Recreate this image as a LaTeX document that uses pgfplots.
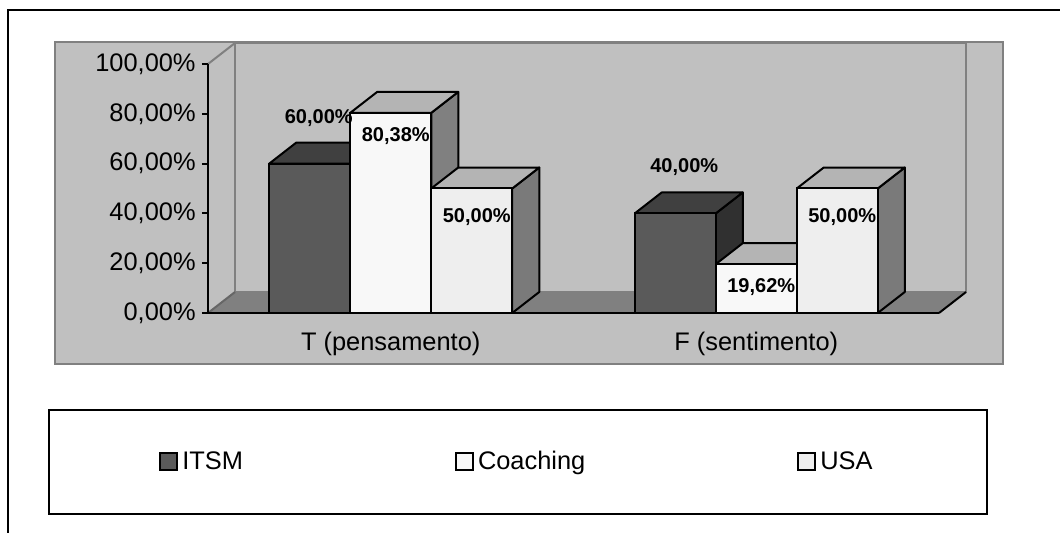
\documentclass[border=0pt]{standalone}
\usepackage{pgfplots}
\pgfplotsset{compat=1.18}
\usepackage{pgfplotstable}
\usepackage{fontspec}
\setmainfont{Liberation Sans}

\definecolor{bgc}{HTML}{C0C0C0}
\definecolor{edgec}{HTML}{808080}
\definecolor{floorc}{HTML}{808080}
\definecolor{itsmF}{HTML}{5A5A5A}
\definecolor{itsmT}{HTML}{404040}
\definecolor{itsmS}{HTML}{303030}
\definecolor{coachF}{HTML}{F8F8F8}
\definecolor{coachT}{HTML}{B4B4B4}
\definecolor{coachS}{HTML}{808080}
\definecolor{usaF}{HTML}{EEEEEE}
\definecolor{usaT}{HTML}{B4B4B4}
\definecolor{usaS}{HTML}{7A7A7A}

\pgfplotstableread{
x    ITSM  Coaching USA
0.5  60    80.38    50
1.5  40    19.62    50
}\datatable

\def\dx{0.0739}
\def\dy{8.43}
\def\bw{0.2216}

% side and top faces of a bar, value read from the table
% #1 row, #2 column, #3 left x, #4 top colour, #5 side colour
\newcommand{\barfaces}[5]{%
  \pgfplotstablegetelem{#1}{#2}\of\datatable
  \let\val\pgfplotsretval
  \pgfmathsetmacro{\xl}{#3}%
  \pgfmathsetmacro{\xr}{#3+\bw}%
  \pgfmathsetmacro{\xlb}{#3+\dx}%
  \pgfmathsetmacro{\xrb}{#3+\bw+\dx}%
  \pgfmathsetmacro{\yt}{\val+\dy}%
  \edef\doplot{%
    \noexpand\addplot[fill=#5, draw=black, line width=1pt, line join=round, forget plot]
      coordinates {(\xr,0) (\xrb,\dy) (\xrb,\yt) (\xr,\val) (\xr,0)};
    \noexpand\addplot[fill=#4, draw=black, line width=1pt, line join=round, forget plot]
      coordinates {(\xl,\val) (\xlb,\yt) (\xrb,\yt) (\xr,\val) (\xl,\val)};
  }\doplot
}

\newcommand{\lblfmt}{\pgfmathprintnumber[fixed,fixed zerofill,precision=2,use comma]{\pgfplotspointmeta}\%}

\begin{document}
\begin{tikzpicture}
\useasboundingbox (0,0) rectangle (530pt,-266.5pt);
% outer frame
\draw[line width=1pt] (4pt,-266.5pt) -- (4pt,-5pt) -- (531pt,-5pt);
% plot area
\draw[fill=bgc, draw=edgec, line width=1pt] (27.5pt,-21pt) rectangle (501.5pt,-182pt);

\begin{axis}[
  at={(104pt,-156.5pt)}, anchor=south west,
  scale only axis, width=365.5pt, height=124.5pt,
  xmin=0, xmax=2, ymin=0, ymax=100,
  clip=false, axis on top,
  axis x line*=bottom, axis y line*=left,
  axis line style={line width=1pt, black},
  tick style={line width=1pt, black},
  tick align=outside, major tick length=3pt,
  ytick={0,20,40,60,80,100},
  yticklabel={\pgfmathprintnumber[fixed,fixed zerofill,precision=2,use comma]{\tick}\%},
  /pgf/number format/assume math mode=true,
  tick label style={font=\fontsize{12.7}{15}\selectfont},
  yticklabel style={inner sep=1pt, xshift=-2pt},
  xtick={0.5,1.5},
  xticklabels={T (pensamento),F (sentimento)},
  major x tick style={draw=none},
  xticklabel style={yshift=-3pt},
  extra x ticks={1,2},
  extra x tick labels={,},
  extra x tick style={major tick length=3pt, tick style={draw=black, line width=1pt}},
  legend columns=3,
  legend style={at={(rel axis cs:0.424,-0.598)}, anchor=center,
    draw=black, line width=1pt, fill=white,
    inner xsep=55pt, inner ysep=18.5pt,
    font=\fontsize{12.7}{15}\selectfont,
    /tikz/every even column/.append style={column sep=104pt}},
  lbl/.style={nodes near coords={\lblfmt},
    every node near coord/.append style={font=\bfseries\fontsize{10}{12}\selectfont, anchor=center}},
]
% back wall, left wall, floor
\draw[fill=bgc, draw=edgec, line width=1pt] (axis cs:\dx,\dy) rectangle (axis cs:2+\dx,100+\dy);
\draw[draw=edgec, line width=1pt] (axis cs:0,100) -- (axis cs:\dx,100+\dy);
\fill[floorc] (axis cs:0,0) -- (axis cs:2,0) -- (axis cs:2+\dx,\dy) -- (axis cs:\dx,\dy) -- cycle;
\draw[draw=edgec, line width=1pt] (axis cs:\dx,\dy) -- (axis cs:2+\dx,\dy);
\draw[draw=black!60, line width=1pt] (axis cs:0,0) -- (axis cs:\dx,\dy);
\draw[draw=black, line width=1pt] (axis cs:2,0) -- (axis cs:2+\dx,\dy);

% ITSM
\barfaces{0}{ITSM}{0.5-1.5*\bw}{itsmT}{itsmS}
\barfaces{1}{ITSM}{1.5-1.5*\bw}{itsmT}{itsmS}
\addplot[ybar, bar width=\bw, bar shift=-\bw, fill=itsmF, draw=black, line width=1pt, lbl,
  every node near coord/.append style={xshift=-36pt, yshift=23pt},
  legend image code/.code={\draw[fill=itsmF,draw=black,line width=1pt] (0pt,-4.25pt) rectangle (8.5pt,4.25pt);}]
  table[x=x, y=ITSM] {\datatable};
\addlegendentry{ITSM}

% Coaching
\barfaces{0}{Coaching}{0.5-0.5*\bw}{coachT}{coachS}
\barfaces{1}{Coaching}{1.5-0.5*\bw}{coachT}{coachS}
\addplot[ybar, bar width=\bw, bar shift=0, fill=coachF, draw=black, line width=1pt, lbl,
  every node near coord/.append style={xshift=2.5pt, yshift=-11.5pt},
  legend image code/.code={\draw[fill=coachF,draw=black,line width=1pt] (0pt,-4.25pt) rectangle (8.5pt,4.25pt);}]
  table[x=x, y=Coaching] {\datatable};
\addlegendentry{Coaching}

% USA
\barfaces{0}{USA}{0.5+0.5*\bw}{usaT}{usaS}
\barfaces{1}{USA}{1.5+0.5*\bw}{usaT}{usaS}
\addplot[ybar, bar width=\bw, bar shift=\bw, fill=usaF, draw=black, line width=1pt, lbl,
  every node near coord/.append style={xshift=43pt, yshift=-14.2pt},
  legend image code/.code={\draw[fill=usaF,draw=black,line width=1pt] (0pt,-4.25pt) rectangle (8.5pt,4.25pt);}]
  table[x=x, y=USA] {\datatable};
\addlegendentry{USA}
\end{axis}
\end{tikzpicture}
\end{document}
